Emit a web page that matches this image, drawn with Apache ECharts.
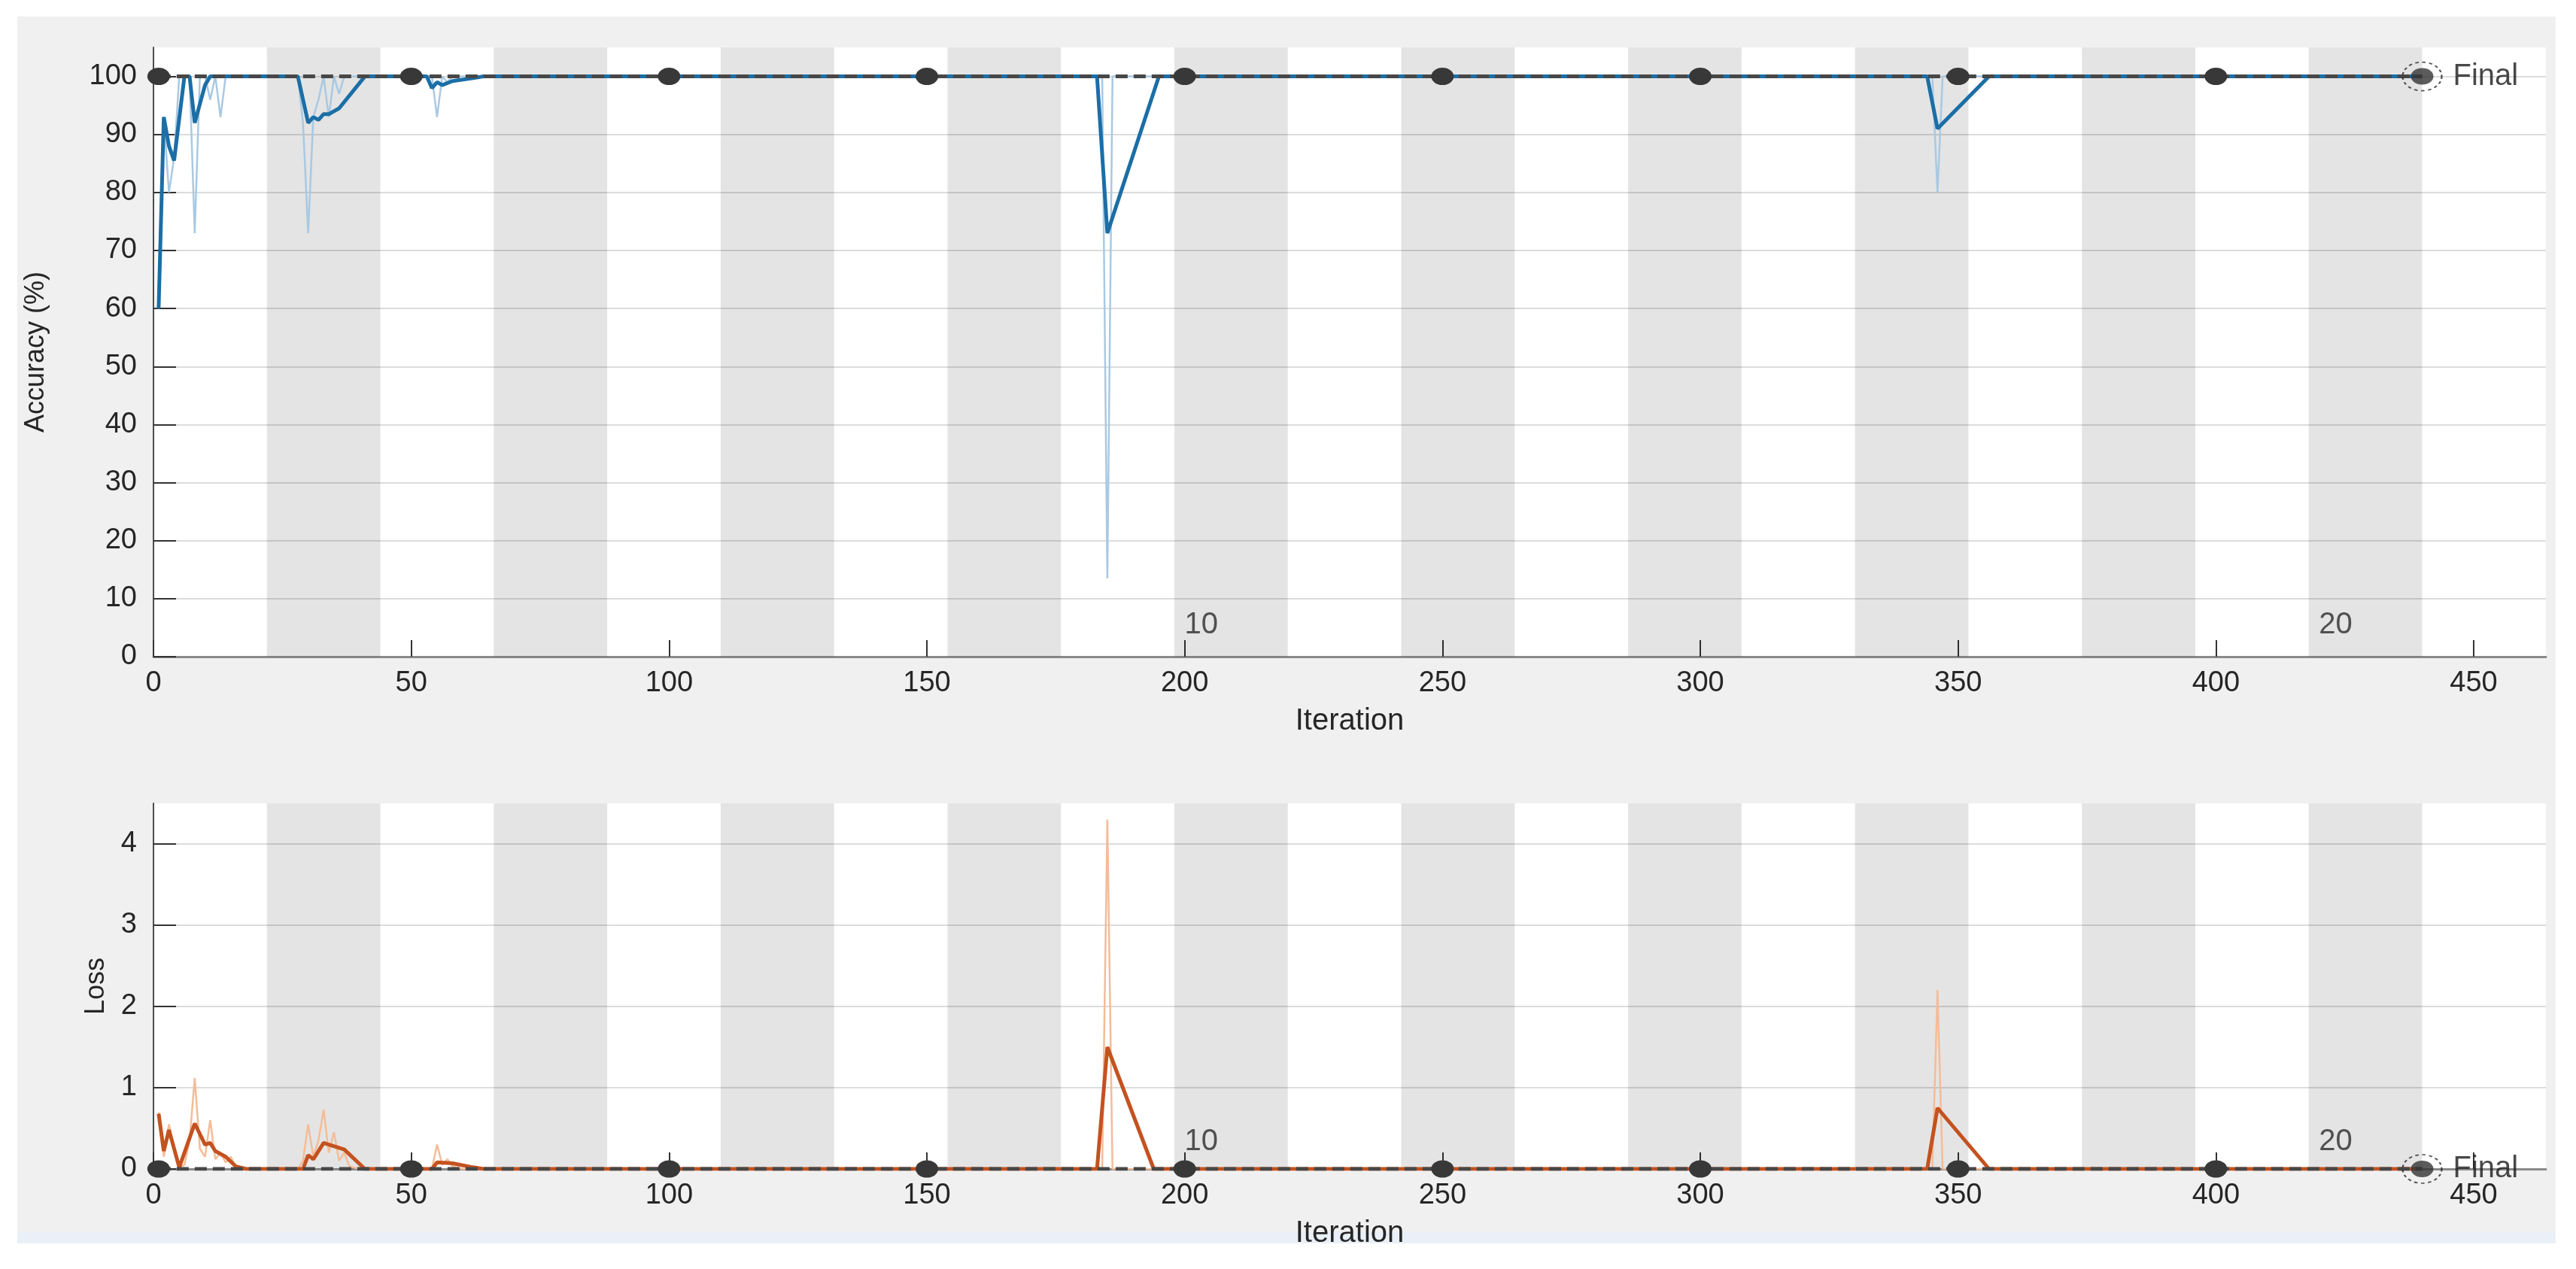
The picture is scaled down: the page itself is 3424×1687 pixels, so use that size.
<!DOCTYPE html>
<html>
<head>
<meta charset="utf-8">
<script src="https://cdn.jsdelivr.net/npm/echarts@6/dist/echarts.min.js"></script>
<style>
html,body{margin:0;padding:0;background:#ffffff;}
#chart{width:3424px;height:1687px;}
</style>
</head>
<body>
<div id="chart"></div>
<script>
// ---------------- data ----------------
const ITERS_PER_EPOCH = 22;
const NUM_EPOCHS = 20;
const epochLabels = [10, 20];
const xTicks = [0, 50, 100, 150, 200, 250, 300, 350, 400, 450];
const accTicks = [0, 10, 20, 30, 40, 50, 60, 70, 80, 90, 100];
const lossTicks = [0, 1, 2, 3, 4];

// training accuracy, raw (vertices [iteration, %])
const accRaw = [
  [1,60],[2,93],[3,80],[4,86],[5,100],[6,100],[7,100],[8,73],[9,100],[10,100],[11,96],[12,100],[13,93],[14,100],
  [28,100],[29,92],[30,73],[31,93],[32,96],[33,100],[34,93],[35,100],[36,97],[37,100],
  [54,100],[55,93],[56,100],[57,99],[58,100],
  [184,100],[185,13.5],[186,100],
  [345,100],[346,80],[347,100],
  [440,100]
];
// training accuracy, smoothed
const accSmooth = [
  [1,60],[2,93],[3,88],[4,85.5],[6,100],[7,100],[8,92],[10,98.5],[11,100],
  [28,100],[30,92],[31,93],[32,92.5],[33,93.5],[34,93.5],[35,94],[36,94.5],[41,100],
  [53,100],[54,98],[55,99],[56,98.5],[58,99.2],[62,99.7],[64,100],
  [183,100],[185,73],[195,100],
  [344,100],[346,91],[356,100],
  [440,100]
];
// training loss, raw
const lossRaw = [
  [1,0.7],[2,0.15],[3,0.55],[4,0.25],[5,0.02],[6,0.05],[7,0.35],[8,1.12],[9,0.25],[10,0.15],[11,0.6],[12,0.12],[13,0.2],[14,0.08],[15,0.15],[16,0.02],[18,0],
  [28,0],[29,0.1],[30,0.55],[31,0.15],[32,0.35],[33,0.73],[34,0.2],[35,0.45],[36,0.1],[37,0.2],[38,0.03],[40,0],
  [54,0],[55,0.3],[56,0.05],[57,0.12],[58,0.03],[60,0],
  [184,0],[185,4.3],[186,0],
  [345,0],[346,2.2],[347,0],
  [440,0]
];
// training loss, smoothed
const lossSmooth = [
  [1,0.68],[2,0.22],[3,0.48],[5,0.02],[8,0.56],[10,0.3],[11,0.32],[12,0.22],[14,0.15],[16,0.03],[18,0],
  [29,0],[30,0.17],[31,0.12],[33,0.32],[37,0.24],[41,0],
  [54,0],[55,0.08],[58,0.07],[62,0.02],[64,0],
  [183,0],[185,1.5],[194,0],
  [344,0],[346,0.75],[356,0],
  [440,0]
];
// validation
const valIter = [1, 50, 100, 150, 200, 250, 300, 350, 400];
const valAcc  = [100, 100, 100, 100, 100, 100, 100, 100, 100];
const valLoss = [0, 0, 0, 0, 0, 0, 0, 0, 0];
const finalIter = 440;
const finalAcc = 100;
const finalLoss = 0;

// ---------------- styling ----------------
const FONT = 'Liberation Sans';
const TXT = '#262626';
const GRID_LEFT = 204, GRID_W = 3180;
const grids = [
  {left: GRID_LEFT, top: 63, width: GRID_W, height: 810},
  {left: GRID_LEFT, top: 1068, width: GRID_W, height: 486}
];

const bands = [];
for (let e = 2; e <= NUM_EPOCHS; e += 2) {
  bands.push([{xAxis: (e - 1) * ITERS_PER_EPOCH}, {xAxis: e * ITERS_PER_EPOCH}]);
}

function pickFmt(list) {
  return function (v) { return list.indexOf(v) >= 0 ? String(v) : ''; };
}

function xAxisCfg(gi) {
  return {
    gridIndex: gi, type: 'value', min: 0, max: 464, interval: 50,
    axisLine: {show: true, onZero: false, lineStyle: {color: '#8a8a8a', width: 3}},
    axisTick: {show: true, inside: true, length: 22, customValues: xTicks, lineStyle: {color: '#333', width: 2}},
    axisLabel: {show: true, margin: 17, customValues: xTicks, formatter: pickFmt(xTicks),
      color: TXT, fontFamily: FONT, fontSize: 38},
    splitLine: {show: false},
    name: 'Iteration', nameLocation: 'middle', nameGap: 66,
    nameTextStyle: {color: TXT, fontFamily: FONT, fontSize: 40}
  };
}

function yAxisCfg(gi, max, interval, ticks, name, nameGap) {
  return {
    gridIndex: gi, type: 'value', min: 0, max: max, interval: interval,
    axisLine: {show: true, lineStyle: {color: '#4d4d4d', width: 2}},
    axisTick: {show: true, inside: true, length: 30, customValues: ticks, lineStyle: {color: '#333', width: 2}},
    axisLabel: {show: true, margin: 22, customValues: ticks, formatter: pickFmt(ticks),
      color: TXT, fontFamily: FONT, fontSize: 38},
    splitLine: {show: true, lineStyle: {color: '#dcdcdc', width: 2}},
    name: name, nameLocation: 'middle', nameRotate: 90, nameGap: nameGap,
    nameTextStyle: {color: TXT, fontFamily: FONT, fontSize: 36}
  };
}

function panelSeries(gi, raw, smooth, rawColor, smoothColor, valY, finalY, epochLabelTop) {
  const valData = valIter.map((it, i) => [it, valY[i]]);
  valData.push({value: [finalIter, finalY], symbol: 'none'});
  return [
    {
      type: 'line', xAxisIndex: gi, yAxisIndex: gi, data: raw, showSymbol: false, symbol: 'none',
      lineStyle: {color: rawColor, width: 2.5}, z: 2, silent: true, animation: false,
      markArea: {silent: true, itemStyle: {color: 'rgba(0,0,0,0.105)'}, data: bands}
    },
    {
      type: 'line', xAxisIndex: gi, yAxisIndex: gi, data: smooth, showSymbol: false, symbol: 'none',
      lineStyle: {color: smoothColor, width: 5}, z: 3, silent: true, animation: false
    },
    {
      type: 'line', xAxisIndex: gi, yAxisIndex: gi, data: valData,
      symbol: 'circle', symbolSize: [30, 23], showSymbol: true, showAllSymbol: true,
      itemStyle: {color: '#383838'},
      lineStyle: {color: '#474747', width: 5, type: [16, 8]}, z: 4, silent: true, animation: false
    },
    {
      type: 'scatter', xAxisIndex: gi, yAxisIndex: gi, data: [[finalIter, finalY]],
      symbol: 'circle', symbolSize: [52, 38],
      itemStyle: {color: 'rgba(0,0,0,0)', borderColor: '#2b2b2b', borderWidth: 2, borderType: [4, 4]},
      z: 5, silent: true, animation: false
    },
    {
      type: 'scatter', xAxisIndex: gi, yAxisIndex: gi, data: [[finalIter, finalY]],
      symbol: 'circle', symbolSize: [30, 22], itemStyle: {color: '#333'},
      label: {show: true, position: 'right', distance: 26, formatter: 'Final',
        color: '#1a1a1a', fontFamily: FONT, fontSize: 40},
      z: 6, silent: true, animation: false
    },
    {
      type: 'scatter', xAxisIndex: gi, yAxisIndex: gi,
      data: epochLabels.map(e => [(e - 1) * ITERS_PER_EPOCH, 0]),
      symbol: 'circle', symbolSize: 1, itemStyle: {color: 'rgba(0,0,0,0)'},
      label: {show: true, position: [14, epochLabelTop], align: 'left', verticalAlign: 'top',
        formatter: p => String(epochLabels[p.dataIndex]),
        color: '#2a2a2a', fontFamily: FONT, fontSize: 40},
      z: 6, silent: true, animation: false
    }
  ];
}

const chart = echarts.init(document.getElementById('chart'), null, {renderer: 'canvas'});
const option = {
  animation: false,
  backgroundColor: '#f0f0f0',
  textStyle: {fontFamily: FONT},
  graphic: [
    {type: 'rect', shape: {x: 0, y: 0, width: 3424, height: 22}, style: {fill: '#ffffff'}, silent: true},
    {type: 'rect', shape: {x: 0, y: 0, width: 23, height: 1687}, style: {fill: '#ffffff'}, silent: true},
    {type: 'rect', shape: {x: 3397, y: 0, width: 27, height: 1687}, style: {fill: '#ffffff'}, silent: true},
    {type: 'rect', shape: {x: 23, y: 1638, width: 3374, height: 15}, style: {fill: '#e9f0f7'}, silent: true},
    {type: 'rect', shape: {x: 0, y: 1653, width: 3424, height: 34}, style: {fill: '#ffffff'}, silent: true}
  ],
  grid: grids.map(g => Object.assign({show: true, backgroundColor: '#ffffff', borderWidth: 0, containLabel: false}, g)),
  xAxis: [xAxisCfg(0), xAxisCfg(1)],
  yAxis: [
    yAxisCfg(0, 105, 10, accTicks, 'Accuracy (%)', 138),
    yAxisCfg(1, 4.5, 1, lossTicks, 'Loss', 58)
  ],
  series: [].concat(
    panelSeries(0, accRaw, accSmooth, '#a9c9e3', '#1b6ea6', valAcc, finalAcc, -62),
    panelSeries(1, lossRaw, lossSmooth, '#f4bc98', '#c4521f', valLoss, finalLoss, -56)
  )
};
chart.setOption(option);
</script>
</body>
</html>
